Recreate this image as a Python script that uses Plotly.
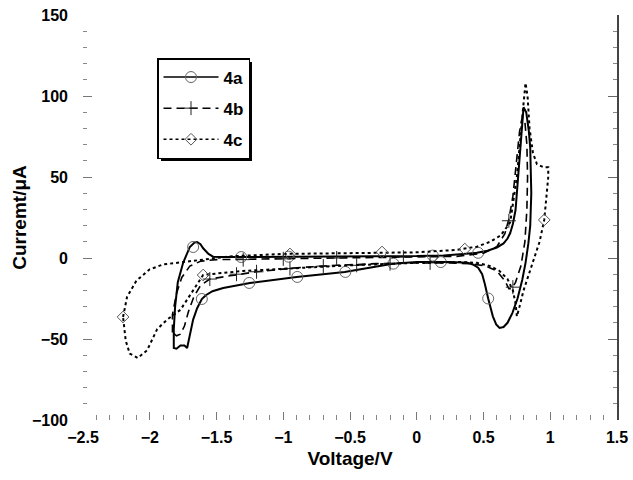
import plotly.graph_objects as go

# ---------------- data ----------------
V_4a = [0.0, 0.2, 0.35, 0.45, 0.53, 0.6, 0.65, 0.68, 0.70, 0.72, 0.74, 0.76, 0.776, 0.79, 0.80,
        0.82, 0.84, 0.85, 0.858, 0.85, 0.836, 0.815, 0.79, 0.755, 0.716, 0.68, 0.65, 0.62, 0.595,
        0.57, 0.55, 0.535, 0.51, 0.49, 0.46, 0.42, 0.38, 0.25, 0.0, -0.18, -0.54, -0.9, -1.25,
        -1.45, -1.53, -1.58, -1.61, -1.645, -1.675, -1.70, -1.72, -1.74, -1.77, -1.80, -1.82,
        -1.82, -1.81, -1.79, -1.75, -1.70, -1.665, -1.645, -1.62, -1.60, -1.56, -1.525, -1.45,
        -1.25, -0.65, 0.0]
I_4a = [1.2, 1.5, 2.5, 3.2, 4.5, 6.5, 9, 12, 15.4, 21, 29.6, 50, 71, 85, 93,
        90, 78, 68, 40, 20, 9, -3, -13.6, -25, -34, -40, -42.6, -43.2, -41,
        -36, -30, -25, -16, -10, -6, -4, -3, -2.5, -2.5, -3.5, -8.6, -11.7, -15.4,
        -18.5, -20.5, -23, -25.3, -31, -38, -49, -55.6, -54, -54, -56, -55.6,
        -44, -30, -15, -3, 6.8, 9.5, 9.9, 8.5, 6, 2.5, 0.8, 0.6,
        0.6, 1.0, 1.2]
V_4a_mk = [-1.675, -1.61, -1.315, -1.255, -0.96, -0.895, -0.535, -0.175, 0.12, 0.18, 0.46, 0.535]
I_4a_mk = [6.8, -25.3, 0.6, -15.4, 0.8, -11.7, -8.6, -3.5, 1.5, -2.5, 3.2, -25]

V_4b = [-1.83, -1.83, -1.80, -1.76, -1.70, -1.62, -1.5, -1.0, -0.5, 0.0, 0.3, 0.5, 0.6, 0.66,
        0.69, 0.72, 0.75, 0.77, 0.79, 0.81, 0.825, 0.83, 0.825, 0.81, 0.78, 0.74, 0.71, 0.69,
        0.66, 0.6, 0.52, 0.4, 0.2, 0.0, -0.3, -0.6, -0.9, -1.2, -1.4, -1.55, -1.62, -1.67,
        -1.71, -1.74, -1.77, -1.80, -1.83]
I_4b = [-46, -35, -22, -12, -5, -2, -1, -0.5, 0, 0.5, 1, 3, 7, 15,
        24, 38, 60, 78, 87, 84, 70, 50, 30, 10, -5, -15, -19, -19,
        -14, -8, -5, -3.5, -3, -3, -3.5, -4.5, -6, -8.5, -11, -13, -17, -24,
        -33, -42, -47, -48, -46]
V_4b_mk = [-1.55, -1.35, -1.2, -0.95, -0.7, -0.45, -0.2, 0.1, -1.3, -1.0, -0.6, -0.1, 0.69, 0.72]
I_4b_mk = [-13, -10, -8.5, -6.5, -5, -4.5, -3.5, -3, -1, -0.5, 0, 0.5, 23, -18]

V_4c = [-2.2, -2.17, -2.1, -2.0, -1.9, -1.77, -1.6, -1.4, -1.0, -0.5, 0.0, 0.3, 0.45, 0.55,
        0.63, 0.70, 0.75, 0.79, 0.815, 0.83, 0.845, 0.87, 0.9, 0.95, 0.985, 0.985, 0.97, 0.955,
        0.92, 0.875, 0.83, 0.80, 0.77, 0.75, 0.74, 0.72, 0.68, 0.62, 0.55, 0.45, 0.33, 0.0,
        -0.5, -1.0, -1.3, -1.55, -1.6, -1.675, -1.77, -1.87, -1.945, -2.02, -2.09, -2.15,
        -2.18, -2.2]
I_4c = [-36.4, -24, -14, -7, -4, -2.5, -1, 1, 2.5, 3, 3.5, 5, 7, 10,
        14, 22, 50, 87, 108, 100, 80, 65, 58, 56, 56, 50, 35, 23.5,
        10, -1, -12, -20, -30, -36, -28, -20, -13, -8, -5, -3, -2.5, -3,
        -4.5, -6.5, -8, -10, -10.5, -20, -32, -38, -44, -57, -61.7, -59,
        -51, -36.4]
V_4c_mk = [-2.2, -1.6, -0.95, -0.26, 0.36, 0.955]
I_4c_mk = [-36.4, -10.5, 2.5, 3.7, 5.5, 23.5]

X_TICKS = [-2.5, -2, -1.5, -1, -0.5, 0, 0.5, 1, 1.5]
X_LABELS = ["\u22122.5", "\u22122", "\u22121.5", "\u22121", "\u22120.5", "0", "0.5", "1", "1.5"]
Y_TICKS = [-100, -50, 0, 50, 100, 150]
Y_LABELS = ["\u2212100", "\u221250", "0", "50", "100", "150"]

FONT = "Liberation Sans"

fig = go.Figure()

series = [
    ("4a", V_4a, I_4a, V_4a_mk, I_4a_mk, "solid", 2, "circle-open", "#666666", 11),
    ("4b", V_4b, I_4b, V_4b_mk, I_4b_mk, "8px,5px", 1.6, "cross-thin-open", "#222222", 10),
    ("4c", V_4c, I_4c, V_4c_mk, I_4c_mk, "3px,3px", 2, "diamond-open", "#555555", 9),
]

for name, vx, iy, mx, my, dash, lw, sym, mcol, msz in series:
    fig.add_trace(go.Scatter(x=vx, y=iy, mode="lines", showlegend=False,
                             line=dict(color="black", width=lw, dash=dash)))
    fig.add_trace(go.Scatter(x=mx, y=my, mode="markers", showlegend=False,
                             marker=dict(symbol=sym, size=msz, color=mcol,
                                         line=dict(color=mcol, width=1))))

for name, vx, iy, mx, my, dash, lw, sym, mcol, msz in series:
    fig.add_trace(go.Scatter(x=[None], y=[None], mode="lines+markers", name=name,
                             legendgroup=name,
                             line=dict(color="black", width=1.5, dash=dash),
                             marker=dict(symbol=sym, size=msz, color=mcol,
                                         line=dict(color=mcol, width=1))))

# right-hand axis line with inside ticks
fig.add_trace(go.Scatter(x=[None], y=[None], yaxis="y2", showlegend=False))

axis_common = dict(showgrid=False, zeroline=False, ticks="inside", tickcolor="#777777",
                   automargin=False,
                   tickfont=dict(family=FONT, size=16, color="black", weight="bold"))

fig.update_layout(
    width=633, height=480,
    margin=dict(l=83, r=16, t=15, b=60),
    paper_bgcolor="white", plot_bgcolor="white",
    xaxis=dict(range=[-2.5, 1.5], tickvals=X_TICKS, ticktext=X_LABELS, ticklen=8, tickwidth=1,
               minor=dict(ticks="inside", dtick=0.1, ticklen=5, tickcolor="#888888"),
               showline=False, ticklabelstandoff=6,
               title=dict(text="Voltage/V", standoff=6,
                          font=dict(family=FONT, size=19, color="black", weight="bold")),
               **axis_common),
    yaxis=dict(range=[-100, 150], tickvals=Y_TICKS, ticktext=Y_LABELS, ticklen=9, tickwidth=1,
               minor=dict(ticks="inside", dtick=10, ticklen=4, tickcolor="#888888"),
               showline=False, ticklabelstandoff=14,
               title=dict(text="Curremt/\u03bcA", standoff=0,
                          font=dict(family=FONT, size=19, color="black", weight="bold")),
               **axis_common),
    yaxis2=dict(range=[-100, 150], overlaying="y", side="right", showgrid=False, zeroline=False,
                automargin=False,
                showline=True, linecolor="#444444", linewidth=1.5, ticks="inside",
                tickvals=Y_TICKS, ticklen=9, tickcolor="#666666", showticklabels=False,
                minor=dict(ticks="inside", dtick=10, ticklen=4, tickcolor="#888888")),
    legend=dict(x=(157 - 83) / 534, y=(420 - 58) / 405, xanchor="left", yanchor="top",
                bgcolor="white", bordercolor="black", borderwidth=1.5,
                font=dict(family=FONT, size=17, color="black", weight="bold"),
                itemwidth=55, tracegroupgap=6),
    font=dict(family=FONT),
)

# legend drop shadow
fig.add_shape(type="rect", xref="paper", yref="paper",
              x0=(161 - 83) / 534, x1=(252 - 83) / 534,
              y0=(420 - 161) / 405, y1=(420 - 62) / 405,
              fillcolor="black", line=dict(width=0))

fig.write_html("out.html")
